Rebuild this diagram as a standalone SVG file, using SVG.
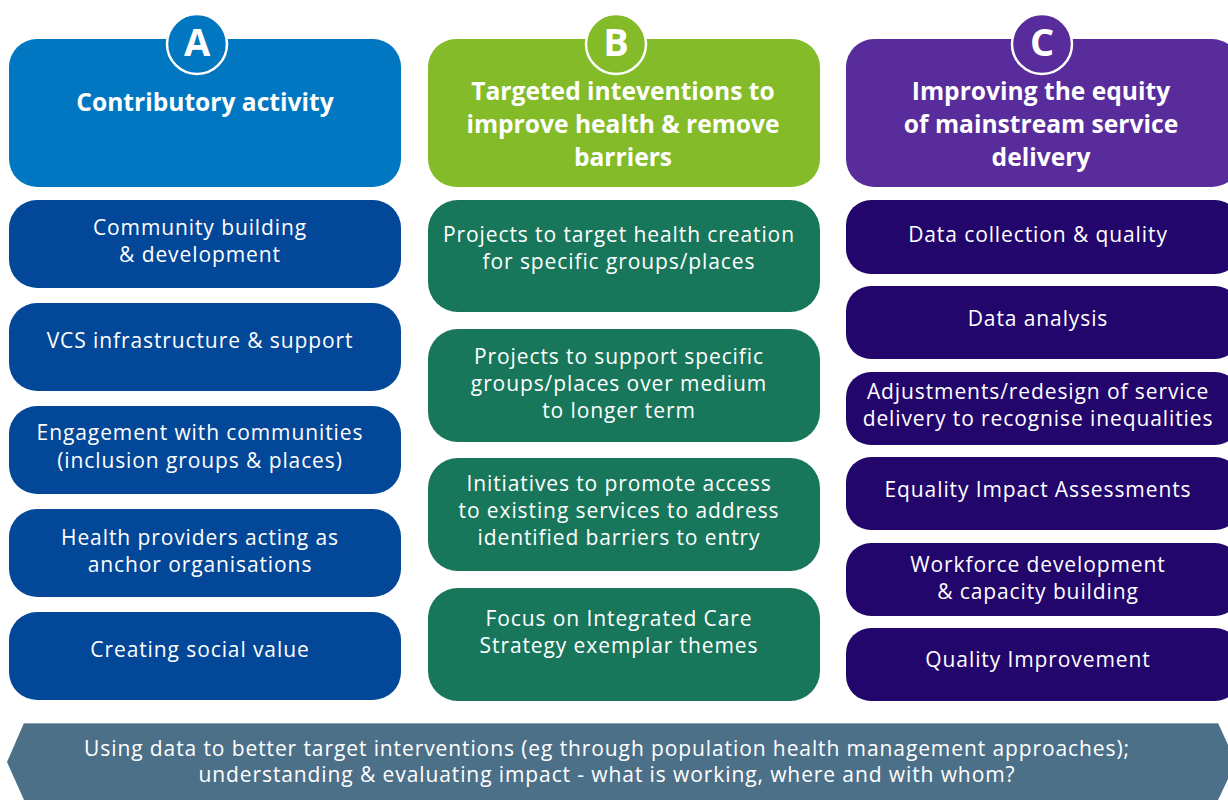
<svg xmlns="http://www.w3.org/2000/svg" width="1228" height="800" viewBox="0 0 1228 800">
<style>
.hd{font-family:"Open Sans","Noto Sans",sans-serif;font-weight:bold;font-size:24.6px;fill:#fff;text-anchor:middle}
.lt{font-family:"Open Sans","Noto Sans",sans-serif;font-weight:bold;font-size:38px;fill:#fff;text-anchor:middle}
.tx{font-family:"Open Sans","Noto Sans",sans-serif;font-size:21px;letter-spacing:0.9px;fill:#fff;text-anchor:middle}
.bt{font-family:"Open Sans","Noto Sans",sans-serif;font-size:21px;letter-spacing:0.9px;fill:#fff;text-anchor:middle}
.circ{stroke:#fff;stroke-width:2.5}
.a1{fill:#0077C0}.a2{fill:#034798}
.b1{fill:#84BB29}.b2{fill:#18775B}
.c1{fill:#582C9B}.c2{fill:#23066C}
</style>
<rect width="1228" height="800" fill="#fff"/>
<g id="bottom-arrow">
<polygon points="24,723 1218,723 1236,762 1218,800 24,800 7,762" fill="#4D7089"/>
<line x1="24" y1="723.5" x2="1218" y2="723.5" stroke="#8FA3B2" stroke-width="1"/>
<text class="bt" x="607" y="756">Using data to better target interventions (eg through population health management approaches);</text>
<text class="bt" x="607" y="782">understanding &amp; evaluating impact - what is working, where and with whom?</text>
</g>
<g id="header-A">
<rect class="a1" x="9" y="39" width="392" height="148" rx="28"/>
<circle class="a1 circ" cx="197" cy="44" r="30"/>
<text class="lt" x="197" y="56">A</text>
<text class="hd" x="205" y="111">Contributory activity</text>
</g>
<g id="header-B">
<rect class="b1" x="428" y="39" width="392" height="148" rx="28"/>
<circle class="b1 circ" cx="616" cy="44" r="30"/>
<text class="lt" x="616" y="56">B</text>
<text class="hd" x="623" y="100">Targeted inteventions to</text>
<text class="hd" x="623" y="133">improve health &amp; remove</text>
<text class="hd" x="623" y="166">barriers</text>
</g>
<g id="header-C">
<rect class="c1" x="846" y="39" width="394" height="148" rx="28"/>
<circle class="c1 circ" cx="1042" cy="44" r="30"/>
<text class="lt" x="1042" y="56">C</text>
<text class="hd" x="1041" y="100">Improving the equity</text>
<text class="hd" x="1041" y="133">of mainstream service</text>
<text class="hd" x="1041" y="166">delivery</text>
</g>
<g id="A1"><rect class="a2" x="9" y="200" width="392" height="88" rx="28"/>
<text class="tx" x="200" y="235">Community building</text><text class="tx" x="200" y="262">&amp; development</text></g>
<g id="A2"><rect class="a2" x="9" y="303" width="392" height="88" rx="28"/>
<text class="tx" x="200" y="348">VCS infrastructure &amp; support</text></g>
<g id="A3"><rect class="a2" x="9" y="406" width="392" height="88" rx="28"/>
<text class="tx" x="200" y="440">Engagement with communities</text><text class="tx" x="200" y="468">(inclusion groups &amp; places)</text></g>
<g id="A4"><rect class="a2" x="9" y="509" width="392" height="88" rx="28"/>
<text class="tx" x="200" y="545">Health providers acting as</text><text class="tx" x="200" y="572">anchor organisations</text></g>
<g id="A5"><rect class="a2" x="9" y="612" width="392" height="88" rx="28"/>
<text class="tx" x="200" y="657">Creating social value</text></g>
<g id="B1"><rect class="b2" x="428" y="200" width="392" height="112" rx="30"/>
<text class="tx" x="619" y="242">Projects to target health creation</text><text class="tx" x="619" y="269">for specific groups/places</text></g>
<g id="B2"><rect class="b2" x="428" y="329" width="392" height="113" rx="30"/>
<text class="tx" x="619" y="364">Projects to support specific</text><text class="tx" x="619" y="391">groups/places over medium</text><text class="tx" x="619" y="418">to longer term</text></g>
<g id="B3"><rect class="b2" x="428" y="458" width="392" height="113" rx="30"/>
<text class="tx" x="619" y="491">Initiatives to promote access</text><text class="tx" x="619" y="518">to existing services to address</text><text class="tx" x="619" y="545">identified barriers to entry</text></g>
<g id="B4"><rect class="b2" x="428" y="588" width="392" height="113" rx="30"/>
<text class="tx" x="619" y="626">Focus on Integrated Care</text><text class="tx" x="619" y="653">Strategy exemplar themes</text></g>
<g id="C1"><rect class="c2" x="846" y="200" width="394" height="74" rx="25"/>
<text class="tx" x="1038" y="242">Data collection &amp; quality</text></g>
<g id="C2"><rect class="c2" x="846" y="286" width="394" height="73" rx="25"/>
<text class="tx" x="1038" y="326">Data analysis</text></g>
<g id="C3"><rect class="c2" x="846" y="372" width="394" height="73" rx="25"/>
<text class="tx" x="1038" y="399">Adjustments/redesign of service</text><text class="tx" x="1038" y="426">delivery to recognise inequalities</text></g>
<g id="C4"><rect class="c2" x="846" y="457" width="394" height="73" rx="25"/>
<text class="tx" x="1038" y="497">Equality Impact Assessments</text></g>
<g id="C5"><rect class="c2" x="846" y="543" width="394" height="73" rx="25"/>
<text class="tx" x="1038" y="572">Workforce development</text><text class="tx" x="1038" y="599">&amp; capacity building</text></g>
<g id="C6"><rect class="c2" x="846" y="628" width="394" height="73" rx="25"/>
<text class="tx" x="1038" y="667">Quality Improvement</text></g>
<g id="connectors"/>
</svg>
